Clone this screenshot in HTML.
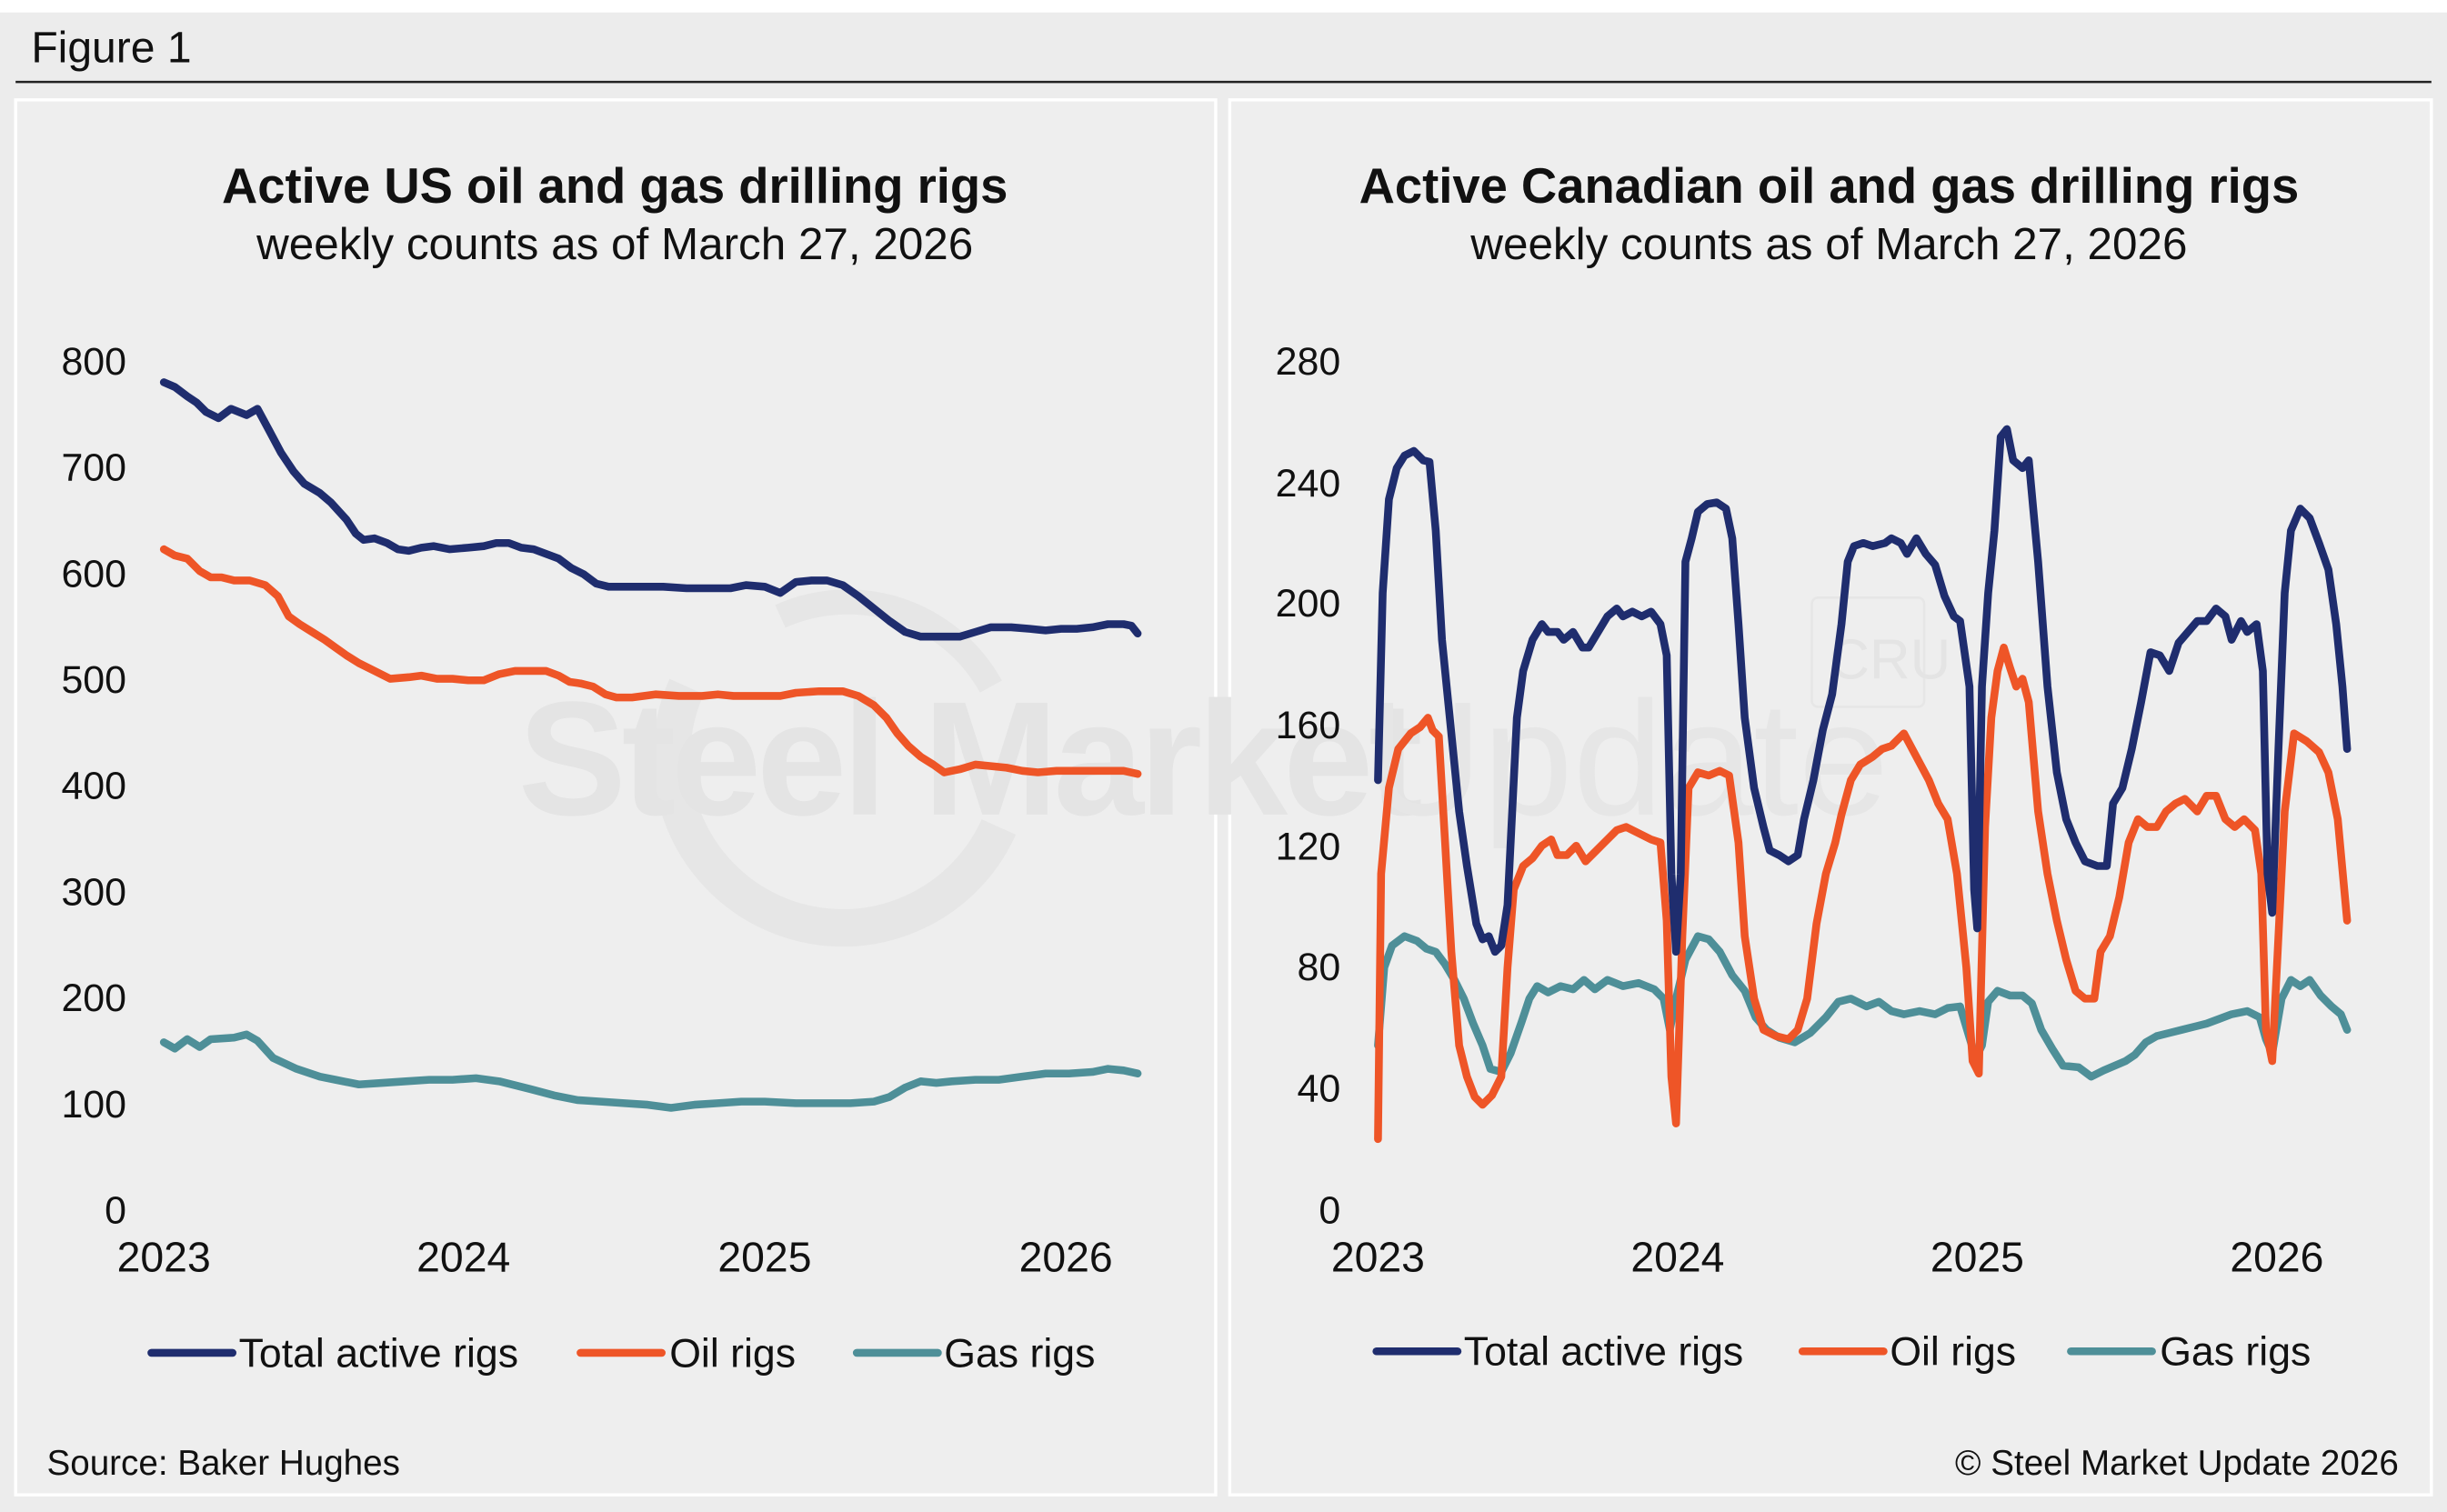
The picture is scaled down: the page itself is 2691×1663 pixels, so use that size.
<!DOCTYPE html>
<html><head><meta charset="utf-8"><style>
html,body{margin:0;padding:0;background:#fff}
svg{display:block}
text{font-family:"Liberation Sans",Arial,sans-serif;fill:#111}
</style></head><body>
<svg width="2691" height="1663" viewBox="0 0 1568 969" xmlns="http://www.w3.org/2000/svg">
<rect x="0" y="0" width="1568" height="969" fill="#fff"/>
<rect x="0" y="8" width="1568" height="961" fill="#ececec"/>
<text x="20" y="40" font-size="28">Figure 1</text>
<line x1="10" y1="52.5" x2="1558" y2="52.5" stroke="#222" stroke-width="1.5"/>
<rect x="10" y="64" width="769" height="894" fill="#eeeeee" stroke="#fff" stroke-width="2"/>
<rect x="788" y="64" width="770" height="894" fill="#eeeeee" stroke="#fff" stroke-width="2"/>

<!-- watermark -->
<g>
<path d="M 440 440 A 105 105 0 0 0 640 530" fill="none" stroke="#e6e6e6" stroke-width="24"/>
<path d="M 500 395 A 105 105 0 0 1 635 440" fill="none" stroke="#e6e6e6" stroke-width="16"/>
<text x="332" y="522" font-size="104" font-weight="bold" style="fill:#e4e4e4" letter-spacing="-3">Steel Market</text>
<text x="875" y="522" font-size="104" style="fill:#e6e6e6">Update</text>
<rect x="1161" y="383" width="72" height="70" rx="4" fill="none" stroke="#e6e6e6" stroke-width="1.5"/>
<text x="1172" y="435" font-size="36" style="fill:#e4e4e4">CRU</text>
</g>

<!-- US chart -->
<text x="394" y="130" font-size="31.7" font-weight="bold" text-anchor="middle">Active US oil and gas drilling rigs</text>
<text x="394" y="166" font-size="28.8" text-anchor="middle">weekly counts as of March 27, 2026</text>
<g font-size="25" text-anchor="end">
<text x="81" y="240">800</text><text x="81" y="308">700</text><text x="81" y="376">600</text><text x="81" y="444">500</text>
<text x="81" y="512">400</text><text x="81" y="580">300</text><text x="81" y="648">200</text><text x="81" y="716">100</text><text x="81" y="784">0</text>
</g>
<g font-size="27" text-anchor="middle">
<text x="105" y="815">2023</text><text x="297" y="815">2024</text><text x="490" y="815">2025</text><text x="683" y="815">2026</text>
</g>
<g fill="none" stroke-width="5" stroke-linejoin="round" stroke-linecap="round">
<polyline stroke="#4e8f98" points="105,668 112,672 120,666 128,671 135,666 150,665 158,663 165,667 175,678 190,685 205,690 215,692 230,695 245,694 260,693 275,692 290,692 305,691 320,693 340,698 355,702 370,705 385,706 400,707 415,708 430,710 445,708 460,707 475,706 490,706 510,707 530,707 545,707 560,706 570,703 580,697 590,693 600,694 610,693 625,692 640,692 655,690 670,688 685,688 700,687 710,685 720,686 729,688"/>
<polyline stroke="#ee5527" points="105,352 112,356 120,358 128,366 135,370 142,370 150,372 160,372 170,375 178,382 185,395 192,400 200,405 208,410 215,415 222,420 230,425 240,430 250,435 262,434 270,433 280,435 290,435 300,436 310,436 320,432 330,430 340,430 350,430 358,433 365,437 372,438 380,440 388,445 395,447 405,447 420,445 435,446 450,446 460,445 470,446 480,446 490,446 500,446 510,444 525,443 540,443 550,446 560,452 568,460 575,470 582,478 590,485 598,490 605,495 615,493 625,490 635,491 645,492 655,494 665,495 677,494 690,494 700,494 710,494 720,494 729,496"/>
<polyline stroke="#1f2d6e" points="105,245 112,248 120,254 126,258 132,264 140,268 148,262 158,266 165,262 172,275 180,290 188,302 195,310 205,316 212,322 222,333 228,342 233,346 240,345 248,348 255,352 262,353 270,351 278,350 288,352 300,351 310,350 318,348 326,348 334,351 342,352 350,355 358,358 366,364 374,368 382,374 390,376 400,376 412,376 425,376 440,377 455,377 468,377 478,375 490,376 500,380 510,373 520,372 530,372 540,375 550,382 560,390 570,398 580,405 590,408 602,408 615,408 625,405 635,402 648,402 660,403 670,404 680,403 690,403 700,402 710,400 720,400 725,401 729,406"/>
</g>
<g font-size="26">
<line x1="97" y1="867" x2="149" y2="867" stroke="#1f2d6e" stroke-width="5" stroke-linecap="round"/><text x="153" y="876">Total active rigs</text>
<line x1="372" y1="867" x2="424" y2="867" stroke="#ee5527" stroke-width="5" stroke-linecap="round"/><text x="429" y="876">Oil rigs</text>
<line x1="549" y1="867" x2="601" y2="867" stroke="#4e8f98" stroke-width="5" stroke-linecap="round"/><text x="605" y="876">Gas rigs</text>
</g>
<text x="30" y="945" font-size="22.5">Source: Baker Hughes</text>

<!-- Canada chart -->
<text x="1172" y="130" font-size="31.7" font-weight="bold" text-anchor="middle">Active Canadian oil and gas drilling rigs</text>
<text x="1172" y="166" font-size="28.8" text-anchor="middle">weekly counts as of March 27, 2026</text>
<g font-size="25" text-anchor="end">
<text x="859" y="240">280</text><text x="859" y="318">240</text><text x="859" y="395">200</text><text x="859" y="473">160</text>
<text x="859" y="551">120</text><text x="859" y="628">80</text><text x="859" y="706">40</text><text x="859" y="784">0</text>
</g>
<g font-size="27" text-anchor="middle">
<text x="883" y="815">2023</text><text x="1075" y="815">2024</text><text x="1267" y="815">2025</text><text x="1459" y="815">2026</text>
</g>
<g fill="none" stroke-width="5" stroke-linejoin="round" stroke-linecap="round">
<polyline stroke="#4e8f98" points="883,670 887,620 892,606 900,600 908,603 914,608 920,610 926,618 932,628 938,640 944,656 950,670 955,685 962,687 968,675 975,655 980,640 985,632 992,636 1000,632 1008,634 1015,628 1022,634 1030,628 1040,632 1050,630 1060,634 1066,640 1070,660 1074,640 1080,615 1088,600 1095,602 1102,610 1110,625 1118,635 1125,652 1132,660 1140,665 1150,668 1160,662 1170,652 1178,642 1186,640 1196,645 1204,642 1212,648 1220,650 1230,648 1240,650 1248,646 1256,645 1262,665 1266,678 1270,670 1274,642 1280,635 1288,638 1296,638 1302,643 1308,660 1315,672 1322,683 1332,684 1340,690 1348,686 1355,683 1362,680 1368,676 1375,668 1382,664 1390,662 1398,660 1406,658 1414,656 1422,653 1430,650 1440,648 1448,652 1452,666 1456,675 1462,640 1468,628 1474,632 1480,628 1487,638 1494,645 1500,650 1504,660"/>
<polyline stroke="#ee5527" points="883,730 885,560 890,505 896,480 904,470 910,466 915,460 918,468 922,472 926,540 930,610 935,670 940,690 945,703 950,708 956,702 962,690 966,620 970,570 976,555 982,550 988,542 994,538 998,548 1004,548 1010,542 1016,552 1022,546 1028,540 1036,532 1042,530 1050,534 1058,538 1064,540 1068,590 1071,690 1074,720 1078,600 1082,505 1088,495 1095,497 1102,494 1108,497 1114,540 1118,600 1124,640 1130,660 1138,664 1146,666 1152,660 1158,640 1164,592 1170,560 1176,540 1180,522 1186,500 1192,490 1200,485 1206,480 1212,478 1220,470 1228,485 1236,500 1242,515 1248,525 1254,560 1260,620 1264,680 1268,688 1272,530 1276,460 1280,430 1284,415 1288,428 1292,440 1296,435 1300,450 1306,520 1312,560 1318,590 1324,615 1330,635 1336,640 1342,640 1346,610 1352,600 1358,575 1364,540 1370,525 1376,530 1382,530 1388,520 1394,515 1400,512 1408,520 1414,510 1420,510 1426,525 1432,530 1438,525 1445,532 1449,560 1452,660 1456,680 1460,600 1464,520 1470,470 1478,475 1486,482 1492,495 1498,525 1504,590"/>
<polyline stroke="#1f2d6e" points="883,500 886,380 890,320 895,300 900,292 906,289 912,295 916,296 920,340 924,410 930,470 935,520 940,555 946,592 950,602 954,600 958,610 962,606 966,580 969,520 972,460 976,430 982,410 988,400 992,405 998,405 1002,410 1008,405 1014,415 1018,415 1024,405 1030,395 1036,390 1040,395 1046,392 1052,395 1058,392 1064,400 1068,420 1071,560 1074,610 1077,560 1080,360 1084,345 1088,328 1094,323 1100,322 1106,326 1110,345 1114,400 1118,460 1124,505 1130,530 1134,545 1140,548 1146,552 1152,548 1156,525 1162,500 1168,468 1174,445 1180,400 1184,360 1188,350 1194,348 1200,350 1208,348 1212,345 1218,348 1222,355 1228,345 1234,355 1240,362 1246,382 1252,395 1256,398 1262,440 1265,570 1267,595 1270,440 1274,380 1278,340 1282,280 1286,275 1290,295 1296,300 1300,295 1306,360 1312,440 1318,495 1324,525 1330,540 1336,552 1344,555 1350,555 1354,515 1360,505 1366,480 1372,450 1378,418 1384,420 1390,430 1396,412 1402,405 1408,398 1414,398 1420,390 1426,395 1430,410 1436,398 1440,405 1446,400 1450,430 1453,560 1456,585 1460,480 1464,380 1468,340 1474,326 1480,332 1486,348 1492,365 1497,400 1501,440 1504,480"/>
</g>
<g font-size="26">
<line x1="882" y1="866" x2="934" y2="866" stroke="#1f2d6e" stroke-width="5" stroke-linecap="round"/><text x="938" y="875">Total active rigs</text>
<line x1="1155" y1="866" x2="1207" y2="866" stroke="#ee5527" stroke-width="5" stroke-linecap="round"/><text x="1211" y="875">Oil rigs</text>
<line x1="1327" y1="866" x2="1379" y2="866" stroke="#4e8f98" stroke-width="5" stroke-linecap="round"/><text x="1384" y="875">Gas rigs</text>
</g>
<text x="1537" y="945" font-size="22.5" text-anchor="end">© Steel Market Update 2026</text>
</svg>
</body></html>
